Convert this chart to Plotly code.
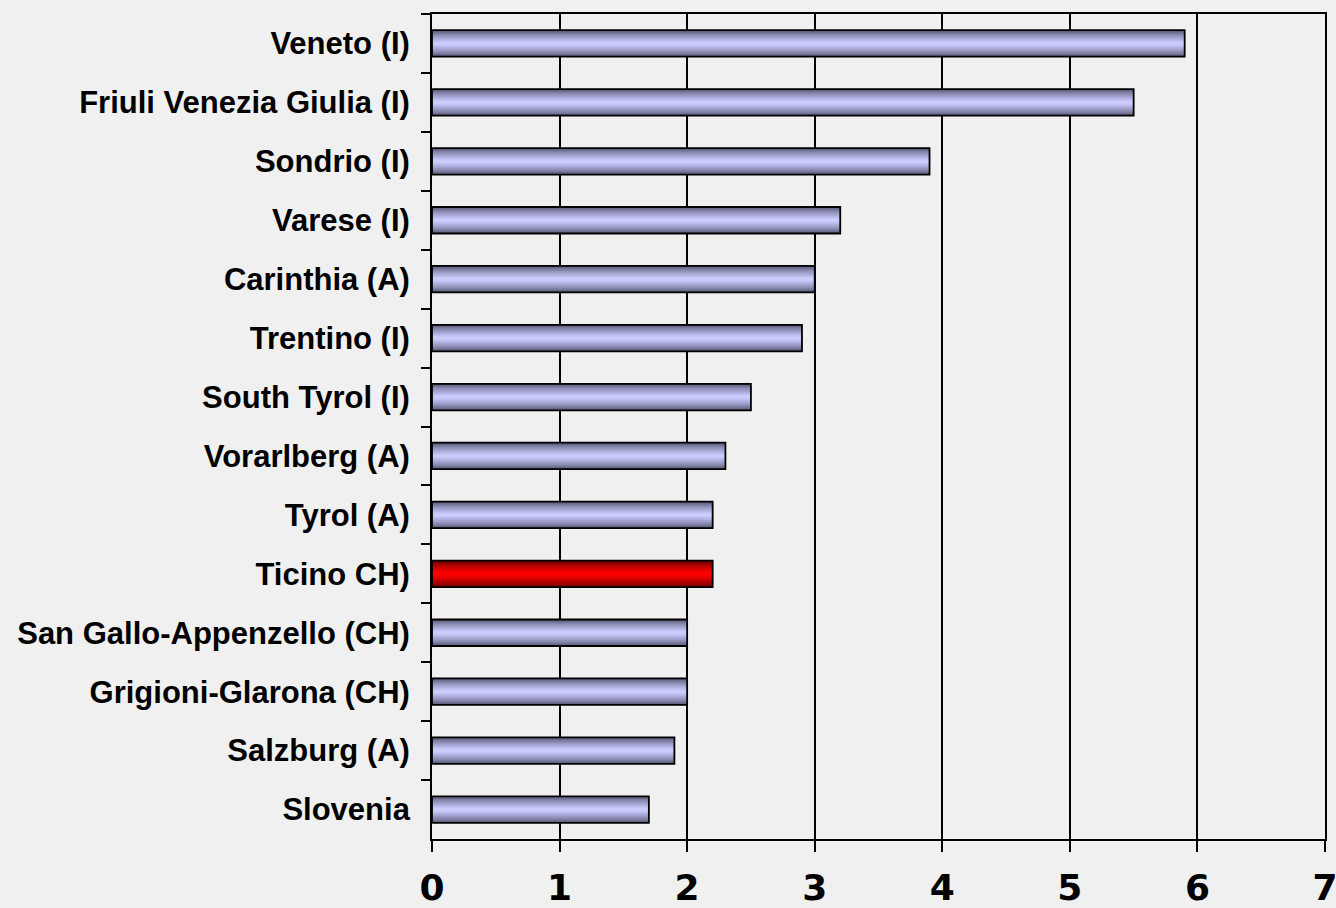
import plotly.graph_objects as go

regions = [
    "Veneto (I)", "Friuli Venezia Giulia (I)", "Sondrio (I)", "Varese (I)",
    "Carinthia (A)", "Trentino (I)", "South Tyrol (I)", "Vorarlberg (A)",
    "Tyrol (A)", "Ticino CH)", "San Gallo-Appenzello (CH)",
    "Grigioni-Glarona (CH)", "Salzburg (A)", "Slovenia",
]
values = [5.9, 5.5, 3.9, 3.2, 3.0, 2.9, 2.5, 2.3, 2.2, 2.2, 2.0, 2.0, 1.9, 1.7]
highlight = "Ticino CH)"
x_ticks = [0, 1, 2, 3, 4, 5, 6, 7]

light_blue = (204, 204, 255)
dark_blue = (80, 80, 110)
light_red = (255, 0, 0)
dark_red = (100, 0, 0)

def mix(a, b, t):
    return "rgb(%d,%d,%d)" % tuple(round(a[k] + (b[k] - a[k]) * t) for k in range(3))

fig = go.Figure()
N = 12
w0 = 0.45
for i in range(N):
    t = i / (N - 1)
    w = w0 * (1 - 0.9 * t)
    tt = t ** 0.7
    cols = [mix(dark_red, light_red, tt) if r == highlight else mix(dark_blue, light_blue, tt)
            for r in regions]
    fig.add_trace(go.Bar(
        x=values, y=regions, orientation="h", width=w,
        marker=dict(color=cols, line=dict(width=0)),
        hoverinfo="skip", showlegend=False,
    ))
# outline
fig.add_trace(go.Bar(
    x=values, y=regions, orientation="h", width=w0,
    marker=dict(color="rgba(0,0,0,0)", line=dict(color="black", width=1.8)),
    hoverinfo="skip", showlegend=False,
))

fig.update_layout(
    width=1336, height=908,
    barmode="overlay",
    paper_bgcolor="#f0f0f0", plot_bgcolor="#f0f0f0",
    margin=dict(l=432, r=11, t=14, b=69, autoexpand=False),
    xaxis=dict(
        range=[0, 7], tickvals=x_ticks, ticktext=[str(v) for v in x_ticks],
        showgrid=True, gridcolor="black", gridwidth=1.8,
        showline=True, linecolor="black", linewidth=1.8, mirror=True,
        ticks="outside", ticklen=11, tickwidth=1.8, tickcolor="black",
        tickfont=dict(family="DejaVu Sans", size=36, color="black", weight="bold"),
        ticklabelstandoff=5, ticklabeloverflow="allow",
        zeroline=False, automargin=False,
    ),
    yaxis=dict(
        categoryorder="array", categoryarray=regions, autorange="reversed",
        tickson="boundaries", ticks="outside", ticklen=9, tickwidth=1.8, tickcolor="black",
        showline=True, linecolor="black", linewidth=1.8, mirror=True,
        showgrid=False, automargin=False,
        tickfont=dict(family="Liberation Sans, Arial", size=31, color="black", weight="bold"),
        ticklabelstandoff=14,
    ),
)

fig.write_html(
    "out.html",
    config={"displayModeBar": False},
    post_script="document.body.style.margin='0';document.body.style.background='#f0f0f0';",
)
